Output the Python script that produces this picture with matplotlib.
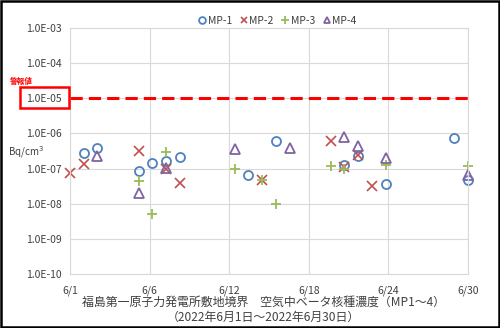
"""
Beta nuclide concentration in air at the site boundary (MP-1 to MP-4), June 2022
"""
import numpy as np
import matplotlib
matplotlib.use("Agg")
import matplotlib.pyplot as plt
from matplotlib.patches import Rectangle

plt.rcParams['font.family'] = ['Noto Sans CJK JP', 'DejaVu Sans']

# Day of month (June 2022) and concentration (Bq/cm3)
mp1_days = [2, 3, 6, 7, 8, 9, 14, 16, 21, 22, 24, 29, 30]
mp1_vals = [2.8e-7, 3.8e-7, 8.7e-8, 1.4e-7, 1.6e-7, 2.1e-7, 6.6e-8, 6.0e-7,
            1.3e-7, 2.3e-7, 3.6e-8, 7.2e-7, 4.6e-8]

mp2_days = [1, 2, 6, 8, 9, 15, 20, 21, 22, 23]
mp2_vals = [7.7e-8, 1.35e-7, 3.2e-7, 1.0e-7, 3.8e-8, 4.7e-8, 6.0e-7, 1.1e-7,
            2.5e-7, 3.1e-8]

mp3_days = [6, 7, 8, 13, 15, 16, 20, 21, 24, 30]
mp3_vals = [4.3e-8, 5.1e-9, 3.0e-7, 9.5e-8, 4.7e-8, 1.0e-8, 1.2e-7, 1.0e-7,
            1.3e-7, 1.2e-7]

mp4_days = [3, 6, 8, 13, 17, 21, 22, 24, 30]
mp4_vals = [2.3e-7, 2.0e-8, 1.05e-7, 3.5e-7, 3.8e-7, 8.0e-7, 4.4e-7, 1.95e-7, 6.6e-8]

alarm_level = 1.0e-5

x_tick_labels = ['6/1', '6/6', '6/12', '6/18', '6/24', '6/30']
y_tick_values = [1e-10, 1e-9, 1e-8, 1e-7, 1e-6, 1e-5, 1e-4, 1e-3]
y_tick_labels = ['1.0E-10', '1.0E-09', '1.0E-08', '1.0E-07', '1.0E-06',
                 '1.0E-05', '1.0E-04', '1.0E-03']

title_line1 = '福島第一原子力発電所敷地境界　空気中ベータ核種濃度（MP1～4）'
title_line2 = '（2022年6月1日～2022年6月30日）'

fig = plt.figure(figsize=(5.0, 3.28), dpi=100)
ax = fig.add_axes([0.14, 0.1646, 0.796, 0.75])

ms = 6.5
ax.plot(mp1_days, mp1_vals, linestyle='none', marker='o', ms=ms, mfc='none',
        mec='#4F81BD', mew=1.3, label='MP-1', clip_on=False)
ax.plot(mp2_days, mp2_vals, linestyle='none', marker='x', ms=ms, mec='#C0504D',
        mew=1.2, label='MP-2', clip_on=False)
ax.plot(mp3_days, mp3_vals, linestyle='none', marker='+', ms=ms + 1, mec='#9BBB59',
        mew=1.3, label='MP-3', clip_on=False)
ax.plot(mp4_days, mp4_vals, linestyle='none', marker='^', ms=ms, mfc='none',
        mec='#8064A2', mew=1.3, label='MP-4', clip_on=False)

ax.axhline(alarm_level, color='#FF0000', lw=2.2, linestyle=(0, (4, 2)), zorder=1)

ax.set_yscale('log')
ax.set_ylim(1e-10, 1e-3)
ax.set_xlim(1, 30)
ax.set_yticks(y_tick_values)
ax.set_yticklabels(y_tick_labels)
ax.yaxis.set_minor_locator(matplotlib.ticker.NullLocator())
ax.set_xticks(np.linspace(1, 30, 6))
ax.set_xticklabels(x_tick_labels)
ax.tick_params(length=0, labelsize=7.5, colors='#404040')
ax.tick_params(axis='x', pad=8)
ax.tick_params(axis='y', pad=6)
ax.grid(True, color='#D9D9D9', lw=0.8)
ax.set_axisbelow(True)
for s in ax.spines.values():
    s.set_color('#D9D9D9')
    s.set_linewidth(0.8)

leg = ax.legend(loc='center', bbox_to_anchor=(0.52, 1.03), ncol=4, frameon=False,
                fontsize=7.5, handletextpad=0.05, columnspacing=0.6, handlelength=1.0,
                markerscale=0.75)
for t in leg.get_texts():
    t.set_color('#404040')

# unit and alarm-level annotations
fig.text(0.016, 0.535, 'Bq/cm$^3$', fontsize=7, color='#404040', va='center')
fig.text(0.02, 0.752, '警報値', fontsize=5.5, color='#FF0000', va='center',
         fontweight='bold')
fig.patches.append(Rectangle((0.04, 0.672), 0.097, 0.062, transform=fig.transFigure,
                             fill=False, edgecolor='#FF0000', lw=1.8))

fig.text(0.526, 0.078, title_line1, ha='center', va='center', fontsize=8.6,
         color='#404040')
fig.text(0.526, 0.031, title_line2, ha='center', va='center', fontsize=8.6,
         color='#404040')

# outer frame
fig.patches.append(Rectangle((0.002, 0.003), 0.996, 0.994, transform=fig.transFigure,
                             fill=False, edgecolor='black', lw=1.8))

fig.savefig('out.png', dpi=100)
